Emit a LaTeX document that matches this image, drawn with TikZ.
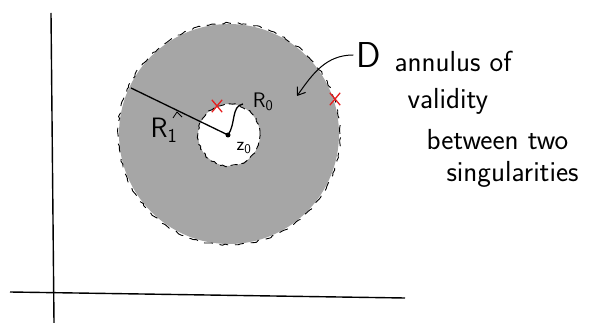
\documentclass[tikz,border=0pt]{standalone}
\usepackage{fontspec}
\usepackage{tikz}
\usetikzlibrary{arrows.meta, positioning, shapes.misc, decorations.pathmorphing}

\definecolor{annulusgray}{RGB}{166,166,166}
\definecolor{singred}{RGB}{230,30,30}

\begin{document}
\begin{tikzpicture}[x=1pt, y=-1pt,
    every node/.style={font=\sffamily},
    axis/.style={line width=1.4pt, black},
    roughedge/.style={line width=0.9pt, black, dash pattern=on 9pt off 7pt,
        decorate, decoration={random steps, segment length=3pt, amplitude=0.9pt}},
    radius/.style={line width=1.3pt, black},
    dot/.style={circle, fill=black, inner sep=0pt, minimum size=5pt},
    sing/.style={cross out, draw=singred, line width=1.3pt, minimum width=9pt, minimum height=11pt, inner sep=0pt},
    note/.style={anchor=west, font=\fontsize{29}{32}\selectfont\sffamily}
]
    \useasboundingbox (0,0) rectangle (599,323);

    % Axes
    \coordinate (xstart) at (10,292);
    \coordinate (xend) at (405,298);
    \coordinate (ystart) at (51,13);
    \coordinate (yend) at (54,323);
    \draw [axis] (xstart) -- (xend);
    \draw [axis] (ystart) -- (yend);

    % Annulus
    \fill [annulusgray, even odd rule] (229,134) circle (110pt) (229,135) circle (31pt);
    \draw [roughedge] (229,134) circle (111pt);
    \draw [roughedge, dash pattern=on 7pt off 4pt] (229,135) circle (31pt);

    % Centre and radii
    \node (z0) [dot] at (228,135) {};
    \coordinate (r1end) at (131,88);
    \coordinate (r0end) at (243,104);
    \draw [radius] (z0.center) -- (r1end);
    \draw [radius] (z0.center) .. controls (236,124) and (231,106) .. (r0end);
    \draw [line width=0.8pt] (173,118) -- (177,112) -- (182,117);

    \node (rone) at (164,130) {\fontsize{28}{30}\selectfont R\textsubscript{1}};
    \node (rzero) at (263,102) {\fontsize{21}{23}\selectfont R\textsubscript{0}};
    \node (zzero) at (244,148) {\fontsize{19}{20}\selectfont z\textsubscript{0}};

    % Singularities
    \node (sone) [sing] at (217,106) {};
    \node (stwo) [sing] at (335,99) {};

    % Label D and note
    \node (D) at (369,55) {\fontsize{36}{38}\selectfont D};
    \coordinate (target) at (297,96);
    \draw [line width=1pt, -{Straight Barb[length=7pt, width=10pt]}] (D.west) to[out=180, in=55] (target);

    \node (l1) [note] at (391,61) {annulus of};
    \node (l2) [note] at (404,101) {validity};
    \node (l3) [note] at (423,140) {between two};
    \node (l4) [note] at (443,174) {singularities};
\end{tikzpicture}
\end{document}
